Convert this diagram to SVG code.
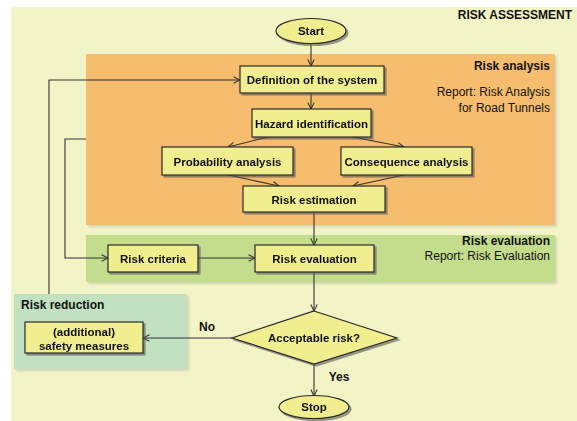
<svg xmlns="http://www.w3.org/2000/svg" width="577" height="421" viewBox="0 0 577 421">
<defs>
<style>
text{font-family:"Liberation Sans",Arial,sans-serif;fill:#111}
.b{font-weight:bold}
.lbl{font-size:11.5px;font-weight:bold;text-anchor:middle}
.box{fill:#f0ee8e;stroke:#2a2a2a;stroke-width:1.2}
.c{fill:none;stroke:#333;stroke-width:1.1;marker-end:url(#ah)}
.panel{filter:url(#ps)}
</style>
<marker id="ah" viewBox="0 0 10 10" refX="9" refY="5" markerWidth="8" markerHeight="8" markerUnits="userSpaceOnUse" orient="auto">
<path d="M1,1 L9,5 L1,9" fill="none" stroke="#333" stroke-width="1.3"/>
</marker>
<filter id="ds" x="-10%" y="-10%" width="130%" height="140%">
<feDropShadow dx="2" dy="2" stdDeviation="0.7" flood-color="#555" flood-opacity="0.6"/>
</filter>
<filter id="ps" x="-5%" y="-5%" width="110%" height="115%">
<feDropShadow dx="2" dy="2" stdDeviation="1" flood-color="#999" flood-opacity="0.35"/>
</filter>
</defs>
<rect x="11" y="7" width="566" height="414" fill="#f2f4c6"/>
<g id="risk-assessment-label"><text x="572" y="19" class="b" font-size="12" text-anchor="end">RISK ASSESSMENT</text></g>
<g id="panel-risk-analysis">
<rect class="panel" x="86" y="54" width="469" height="171" fill="#f6bd6e"/>
<text x="550" y="70" class="b" font-size="12" text-anchor="end">Risk analysis</text>
<text x="550" y="96" font-size="12" text-anchor="end">Report: Risk  Analysis</text>
<text x="550" y="112" font-size="12" text-anchor="end">for Road Tunnels</text>
</g>
<g id="panel-risk-evaluation">
<rect class="panel" x="86" y="235" width="469" height="47" fill="#c4dd8c"/>
<text x="550" y="245" class="b" font-size="12" text-anchor="end">Risk evaluation</text>
<text x="550" y="260" font-size="12" text-anchor="end">Report: Risk Evaluation</text>
</g>
<g id="panel-risk-reduction">
<rect class="panel" x="14" y="294" width="173" height="75" fill="#c1e1c1"/>
<text x="21" y="309" class="b" font-size="12">Risk reduction</text>
</g>
<g id="connectors">
<path class="c" d="M311,43 V66"/>
<path class="c" d="M311,93 V109"/>
<path class="c" d="M268,137 L228,147"/>
<path class="c" d="M353,137 L404,147"/>
<path class="c" d="M228,175 L279,186"/>
<path class="c" d="M404,175 L353,186"/>
<path class="c" d="M314,212 V245"/>
<path class="c" d="M86,139 H65 V258 H108"/>
<path class="c" d="M198,258 H255"/>
<path class="c" d="M314,272 V311"/>
<path class="c" d="M232,338 H143"/>
<path class="c" d="M314,363 V396"/>
<path class="c" d="M49,294 V80 H240"/>
<text x="207" y="331" class="b" font-size="12" text-anchor="middle">No</text>
<text x="339" y="381" class="b" font-size="12" text-anchor="middle">Yes</text>
</g>
<g id="start" filter="url(#ds)">
<ellipse cx="311" cy="31" rx="35" ry="12.5" class="box"/>
<text x="311" y="35" class="lbl">Start</text>
</g>
<g id="definition" filter="url(#ds)">
<rect x="240" y="66" width="144" height="27" class="box"/>
<text x="312" y="84" class="lbl">Definition of the system</text>
</g>
<g id="hazard" filter="url(#ds)">
<rect x="252" y="109" width="119" height="28" class="box"/>
<text x="311.5" y="127.5" class="lbl">Hazard identification</text>
</g>
<g id="probability" filter="url(#ds)">
<rect x="162" y="147" width="131" height="28" class="box"/>
<text x="227.5" y="165.5" class="lbl">Probability analysis</text>
</g>
<g id="consequence" filter="url(#ds)">
<rect x="341" y="147" width="131" height="28" class="box"/>
<text x="406.5" y="165.5" class="lbl">Consequence analysis</text>
</g>
<g id="risk-estimation" filter="url(#ds)">
<rect x="243" y="186" width="142" height="26" class="box"/>
<text x="314" y="203.5" class="lbl">Risk estimation</text>
</g>
<g id="risk-criteria" filter="url(#ds)">
<rect x="108" y="245" width="90" height="27" class="box"/>
<text x="153" y="262.5" class="lbl">Risk criteria</text>
</g>
<g id="risk-evaluation" filter="url(#ds)">
<rect x="255" y="245" width="119" height="27" class="box"/>
<text x="314.5" y="262.5" class="lbl">Risk evaluation</text>
</g>
<g id="acceptable" filter="url(#ds)">
<polygon points="314,311 397,338 314,364 232,338" class="box"/>
<text x="314" y="342" class="lbl">Acceptable risk?</text>
</g>
<g id="safety-measures" filter="url(#ds)">
<rect x="25" y="322" width="118" height="31" class="box"/>
<text x="84" y="336" class="lbl">(additional)</text>
<text x="84" y="349.5" class="lbl">safety measures</text>
</g>
<g id="stop" filter="url(#ds)">
<ellipse cx="314" cy="407" rx="35" ry="11.5" class="box"/>
<text x="314" y="411" class="lbl">Stop</text>
</g>
</svg>
